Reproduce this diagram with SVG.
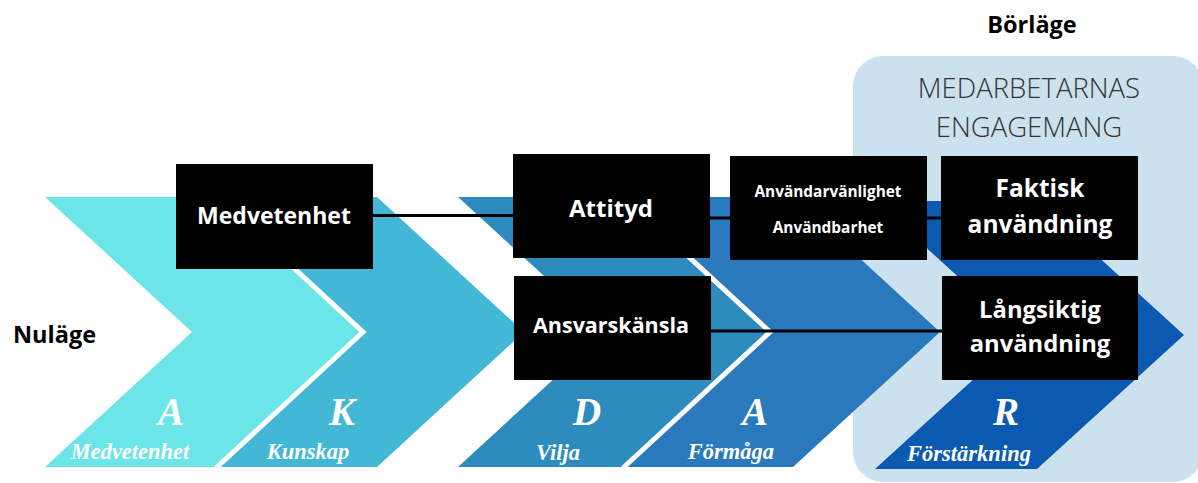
<svg xmlns="http://www.w3.org/2000/svg" width="1198" height="483" viewBox="0 0 1198 483">
<style>
.box{fill:#000;}
.bt{font-family:"Open Sans","DejaVu Sans",sans-serif;font-weight:700;fill:#fff;text-anchor:middle;font-size:23px;}
.st{font-family:"Open Sans","DejaVu Sans",sans-serif;font-weight:700;fill:#fff;text-anchor:middle;font-size:15.4px;}
.big{font-family:"Liberation Serif","DejaVu Serif",serif;font-weight:700;font-style:italic;fill:#fff;text-anchor:middle;font-size:39px;}
.lab{font-family:"Liberation Serif","DejaVu Serif",serif;font-weight:700;font-style:italic;fill:#fff;text-anchor:middle;font-size:22.5px;}
.edge{fill:none;stroke:#fff;stroke-width:5;stroke-linejoin:miter;}
.conn{stroke:#000;stroke-width:3;fill:none;}
.head{font-family:"Open Sans","DejaVu Sans",sans-serif;font-weight:700;fill:#000;font-size:23.5px;}
.eng{font-family:"Open Sans","DejaVu Sans",sans-serif;font-weight:300;fill:#333;text-anchor:middle;font-size:27.5px;}
</style>
<rect width="1198" height="483" fill="#fff"/>
<g id="panel">
<rect x="853" y="56" width="350" height="426" rx="30" ry="30" fill="#CCE1EE"/>
<text class="eng" x="1029" y="98">MEDARBETARNAS</text>
<text class="eng" x="1029" y="137">ENGAGEMANG</text>
</g>
<g id="chevrons">
<polygon id="chev-K" points="200,197 377,197 524,332 377,467 200,467 347,332" fill="#43B8D6"/>
<polygon id="chev-A1" points="45,197 216,197 363,332 216,467 45,467 192,332" fill="#6BE5E7"/>
<polyline class="edge" points="216,196 363,332 216,468"/>
<polygon id="chev-A2" points="600,197 793,197 940,332 793,467 600,467 747,332" fill="#2A79BD"/>
<polygon id="chev-D" points="458,197 623,197 770,332 623,467 458,467 605,332" fill="#2E8BBE"/>
<polyline class="edge" points="623,196 770,332 623,468"/>
<polygon id="chev-R" points="875,201 1037,201 1184,335 1037,469 875,469 1022,335" fill="#0C59B2"/>
</g>
<g id="letters">
<text class="big" x="171" y="425">A</text>
<text class="lab" x="130" y="459">Medvetenhet</text>
<text class="big" x="342" y="425">K</text>
<text class="lab" x="308" y="459">Kunskap</text>
<text class="big" x="587" y="425">D</text>
<text class="lab" x="558" y="460">Vilja</text>
<text class="big" x="755" y="425">A</text>
<text class="lab" x="731" y="459">Förmåga</text>
<text class="big" x="1006" y="425">R</text>
<text class="lab" x="969" y="461">Förstärkning</text>
</g>
<g id="connectors">
<line class="conn" x1="372" y1="215.5" x2="514" y2="215.5"/>
<line class="conn" x1="709" y1="218" x2="942" y2="218"/>
<line class="conn" x1="710" y1="331" x2="942" y2="331"/>
</g>
<g id="node-medvetenhet">
<rect class="box" x="176" y="164" width="197" height="105"/>
<text class="bt" x="274" y="224">Medvetenhet</text>
</g>
<g id="node-attityd">
<rect class="box" x="513" y="154" width="197" height="104"/>
<text class="bt" x="611" y="217" style="font-size:24px">Attityd</text>
</g>
<g id="node-ansvarskansla">
<rect class="box" x="514" y="276" width="197" height="104"/>
<text class="bt" x="611" y="333" style="font-size:21.5px">Ansvarskänsla</text>
</g>
<g id="node-anvandar">
<rect class="box" x="730" y="156" width="197" height="104"/>
<text class="st" x="828" y="197">Användarvänlighet</text>
<text class="st" x="828" y="233">Användbarhet</text>
</g>
<g id="node-faktisk">
<rect class="box" x="941" y="156" width="197" height="104"/>
<text class="bt" x="1040" y="197" style="font-size:24.5px">Faktisk</text>
<text class="bt" x="1040" y="233" style="font-size:24.5px">användning</text>
</g>
<g id="node-langsiktig">
<rect class="box" x="942" y="276" width="196" height="104"/>
<text class="bt" x="1040" y="318" style="font-size:23.8px">Långsiktig</text>
<text class="bt" x="1040" y="352" style="font-size:23.8px">användning</text>
</g>
<g id="labels">
<text class="head" x="13" y="343">Nuläge</text>
<text class="head" x="1032" y="33" text-anchor="middle">Börläge</text>
</g>
</svg>
